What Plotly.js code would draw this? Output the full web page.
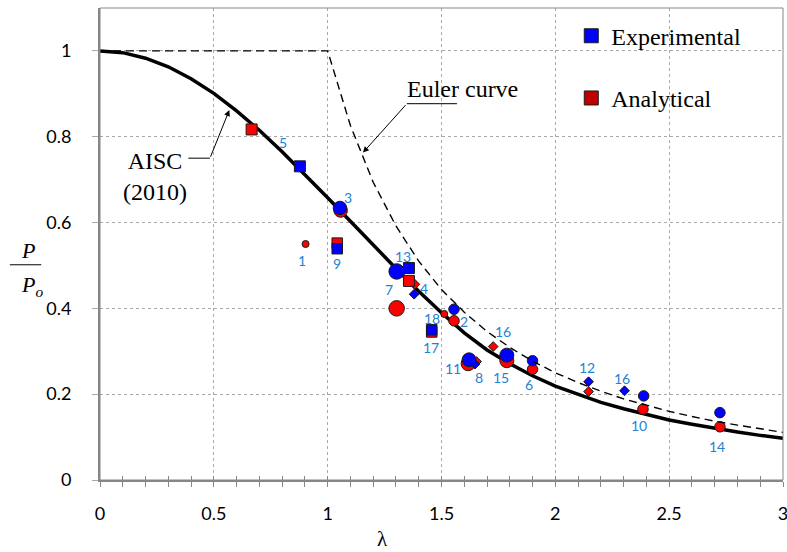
<!DOCTYPE html>
<html>
<head>
<meta charset="utf-8">
<script src="https://cdn.plot.ly/plotly-3.0.1.min.js"></script>
<style>html,body{margin:0;padding:0;background:#fff;}#chart{width:787px;height:552px;}</style>
</head>
<body>
<div id="chart"></div>
<script>
// ---------- DATA ----------
// AISC (2010) column curve, read at 0.1 steps of lambda
const aiscLambda = [0,0.1,0.2,0.3,0.4,0.5,0.6,0.7,0.8,0.9,1.0,1.1,1.2,1.3,1.4,1.5,1.6,1.7,1.8,1.9,2.0,2.1,2.2,2.3,2.4,2.5,2.6,2.7,2.8,2.9,3.0];
const aiscP      = [1.000,0.996,0.983,0.963,0.935,0.901,0.860,0.815,0.765,0.712,0.658,0.603,0.547,0.493,0.440,0.390,0.343,0.303,0.271,0.243,0.219,0.199,0.181,0.166,0.152,0.140,0.130,0.120,0.112,0.104,0.097];
// Euler curve
const eulerLambda = [0,1.0,1.1,1.2,1.3,1.4,1.5,1.6,1.7,1.8,1.9,2.0,2.1,2.2,2.3,2.4,2.5,2.6,2.7,2.8,2.9,3.0];
const eulerP      = [1.000,1.000,0.826,0.694,0.592,0.510,0.444,0.391,0.346,0.309,0.277,0.250,0.227,0.207,0.189,0.174,0.160,0.148,0.137,0.128,0.119,0.111];

// Experimental specimens
const expId = [5,3,9,7,13,4,17,2,11,8,15,6,12,16,10,14];
const expX  = [0.878,1.054,1.042,1.303,1.357,1.380,1.457,1.555,1.621,1.647,1.787,1.900,2.146,2.304,2.388,2.723];
const expY  = [0.731,0.634,0.539,0.486,0.494,0.433,0.350,0.398,0.280,0.270,0.291,0.278,0.229,0.208,0.196,0.157];

// Analytical specimens
const anaId = [5,3,1,9,7,13,4,18,17,2,11,8,16,15,6,12,10,14];
const anaX  = [0.666,1.057,0.903,1.042,1.303,1.357,1.383,1.512,1.457,1.555,1.617,1.654,1.727,1.787,1.900,2.146,2.385,2.723];
const anaY  = [0.817,0.628,0.550,0.552,0.400,0.464,0.456,0.387,0.345,0.371,0.271,0.276,0.311,0.278,0.258,0.206,0.165,0.124];

// Specimen number labels
const labelText = ['5','3','1','9','13','7','4','18','2','17','11','8','16','15','6','12','16','10','14'];
const labelX    = [0.802,1.088,0.888,1.040,1.329,1.269,1.424,1.457,1.600,1.454,1.549,1.664,1.769,1.761,1.885,2.139,2.293,2.368,2.710];
const labelY    = [0.786,0.658,0.511,0.505,0.520,0.444,0.446,0.377,0.369,0.309,0.261,0.240,0.346,0.240,0.223,0.263,0.236,0.127,0.078];

const xTickVals = [0,0.5,1,1.5,2,2.5,3];
const xTickText = ['0','0.5','1','1.5','2','2.5','3'];
const yTickVals = [0,0.2,0.4,0.6,0.8,1];
const yTickText = ['0','0.2','0.4','0.6','0.8','1'];

// ---------- STYLE ----------
const specimenStyle = {
  1:['circle',7], 2:['circle',10.5], 3:['circle',13.5], 4:['diamond',7.5],
  5:['square',11], 6:['circle',10.5], 7:['circle',15.5], 8:['diamond',7.5],
  9:['square',10.5], 10:['circle',10.5], 11:['circle',14], 12:['diamond',7.5],
  13:['square',11], 14:['circle',10.5], 15:['circle',14], 16:['diamond',7.5],
  17:['square',10.5], 18:['circle',7]
};
const serif = 'Liberation Serif, Times New Roman, serif';
const sans = 'Lato, Open Sans, sans-serif';
const labelColor = '#2482d2';
const gridColor = '#a8a8a8';
const axisColor = '#868686';

function seriesTraces(ids, xs, ys, color, name){
  const out = [];
  ['diamond','circle','square'].forEach(sym => {
    const idx = ids.map((id,i)=>i).filter(i => specimenStyle[ids[i]][0] === sym);
    if (!idx.length) return;
    out.push({
      type:'scatter', mode:'markers', name:name, showlegend:false,
      x: idx.map(i=>xs[i]), y: idx.map(i=>ys[i]),
      marker:{symbol:sym, color:color, opacity:1, size: idx.map(i=>specimenStyle[ids[i]][1]),
              line:{color:'#1a1a1a', width:1}},
      cliponaxis:false, hoverinfo:'skip'
    });
  });
  return out;
}

const traces = [
  {type:'scatter', mode:'lines', x:eulerLambda, y:eulerP, xaxis:'x2', showlegend:false,
   line:{color:'#000', width:1.4, dash:'8px,5px'}, hoverinfo:'skip'},
  {type:'scatter', mode:'lines', x:aiscLambda, y:aiscP, showlegend:false,
   line:{color:'#000', width:3.5}, hoverinfo:'skip'},
  ...seriesTraces(anaId, anaX, anaY, '#ff0000', 'Analytical'),
  ...seriesTraces(expId, expX, expY, '#0000ff', 'Experimental'),
  {type:'scatter', mode:'markers', x:[null], y:[null], name:'Experimental', legendgroup:'a',
   marker:{symbol:'square', color:'#0000ff', opacity:1, size:14, line:{color:'#1a1a1a', width:1}}},
  {type:'scatter', mode:'markers', x:[null], y:[null], name:'Analytical', legendgroup:'b',
   marker:{symbol:'square', color:'#c00000', opacity:1, size:14, line:{color:'#1a1a1a', width:1}}}
];

const annotations = labelText.map((t,i)=>({
  x:labelX[i], y:labelY[i], xref:'x', yref:'y', text:t, showarrow:false,
  font:{family:sans, size:14, color:labelColor}, xanchor:'center', yanchor:'middle'
}));
annotations.push(
  {x:1.594, y:0.912, xref:'x', yref:'y', text:'Euler curve', showarrow:false,
   font:{family:serif, size:24, color:'#000'}},
  {x:1.155, y:0.763, ax:1.348, ay:0.877, axref:'x', ayref:'y', xref:'x', yref:'y', text:'',
   showarrow:true, arrowhead:2, arrowsize:1.2, arrowwidth:1, arrowcolor:'#000'},
  {x:0.24, y:0.708, xref:'x', yref:'y', text:'AISC<br>(2010)', showarrow:false,
   font:{family:serif, size:24, color:'#000'}},
  {x:0.568, y:0.862, ax:0.483, ay:0.750, axref:'x', ayref:'y', xref:'x', yref:'y', text:'',
   showarrow:true, arrowhead:2, arrowsize:1.2, arrowwidth:1, arrowcolor:'#000'},
  {x:-0.119, y:0.486, xref:'paper', yref:'paper', text:'<i>P</i>', showarrow:false,
   font:{family:serif, size:22, color:'#000'}},
  {x:-0.118, y:0.412, xref:'paper', yref:'paper', text:'<i>P<sub>o</sub></i>', showarrow:false,
   font:{family:serif, size:22, color:'#000'}},
  {x:0.414, y:-0.125, xref:'paper', yref:'paper', text:'λ', showarrow:false,
   font:{family:serif, size:21, color:'#000'}, yanchor:'middle'}
);

const shapes = [
  {type:'rect', xref:'paper', yref:'paper', x0:0, x1:1, y0:0, y1:1, line:{color:axisColor, width:1}},
  {type:'line', xref:'x', yref:'y', x0:1.348, x1:1.568, y0:0.877, y1:0.877, line:{color:'#000', width:1}},
  {type:'line', xref:'x', yref:'y', x0:0.388, x1:0.483, y0:0.750, y1:0.750, line:{color:'#000', width:1}},
  {type:'line', xref:'paper', yref:'paper', x0:-0.132, x1:-0.086, y0:0.456, y1:0.456, line:{color:'#000', width:1}}
];

const layout = {
  width:787, height:552,
  margin:{l:100, r:4, t:8, b:72},
  paper_bgcolor:'#fff', plot_bgcolor:'#fff',
  showlegend:true,
  legend:{x:0.69, xanchor:'left', y:0.988, yanchor:'top', bgcolor:'rgba(0,0,0,0)',
          font:{family:serif, size:24, color:'#000'}, tracegroupgap:28, itemwidth:30},
  xaxis:{range:[0,3], tickvals:xTickVals, ticktext:xTickText, showgrid:true, gridcolor:gridColor,
         griddash:'3px,3px', gridwidth:1, zeroline:false, showline:true, linecolor:axisColor, linewidth:2,
         ticks:'outside', ticklen:5, tickcolor:axisColor, tickwidth:1,
         minor:{ticks:'outside', dtick:0.1, tick0:0, ticklen:5, tickcolor:axisColor, tickwidth:1, showgrid:false},
         tickfont:{family:sans, size:18, color:'#000'}, ticklabelstandoff:11, ticklabeloverflow:'allow',
         fixedrange:true},
  xaxis2:{range:[0,3], overlaying:'x', matches:'x', anchor:'y', side:'bottom', showgrid:false, zeroline:false,
          showline:false, ticks:'inside', dtick:0.1, tick0:0, ticklen:4, tickcolor:axisColor, tickwidth:1,
          showticklabels:false},
  yaxis:{range:[0,1.1], tickvals:yTickVals, ticktext:yTickText, showgrid:true, gridcolor:gridColor,
         griddash:'3px,3px', gridwidth:1, zeroline:false, showline:true, linecolor:axisColor, linewidth:2,
         ticks:'outside', ticklen:6, tickcolor:gridColor, tickwidth:1,
         tickfont:{family:sans, size:18, color:'#000'}, ticklabelstandoff:17, fixedrange:true},
  annotations:annotations,
  shapes:shapes
};

Plotly.newPlot('chart', traces, layout, {staticPlot:true, displayModeBar:false});
</script>
</body>
</html>
